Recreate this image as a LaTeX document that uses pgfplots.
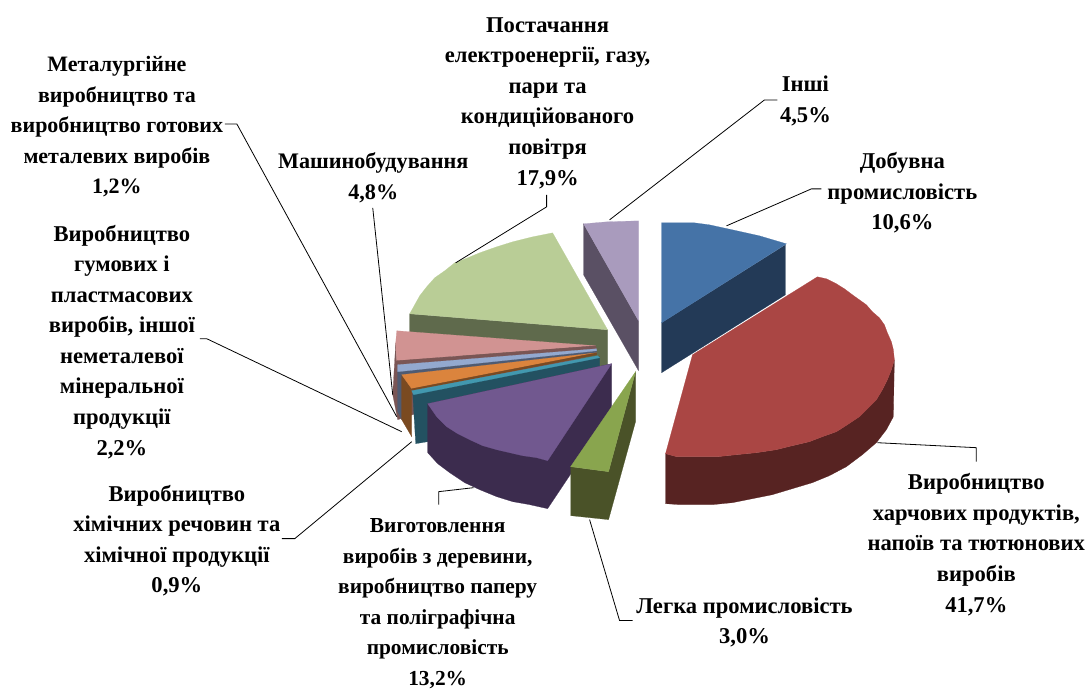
\documentclass[border=0pt]{standalone}
\usepackage{pgfplots}
\pgfplotsset{compat=1.18}
\usepackage{fontspec}
\setmainfont{Liberation Serif}
\definecolor{cBlue}{HTML}{4573A7}\definecolor{dBlue}{HTML}{233A57}
\definecolor{cRed}{HTML}{AA4644}\definecolor{dRed}{HTML}{572322}
\definecolor{cGrn}{HTML}{89A54E}\definecolor{dGrn}{HTML}{4A5228}
\definecolor{cPur}{HTML}{71588F}\definecolor{dPur}{HTML}{3C2C4E}
\definecolor{cTeal}{HTML}{4298AF}\definecolor{dTeal}{HTML}{235161}
\definecolor{cOra}{HTML}{DB843D}\definecolor{dOra}{HTML}{7A4A21}
\definecolor{cLbl}{HTML}{93A9CF}\definecolor{dLbl}{HTML}{4F5B72}
\definecolor{cPnk}{HTML}{D19392}\definecolor{dPnk}{HTML}{7A5655}
\definecolor{cLgr}{HTML}{B9CD96}\definecolor{dLgr}{HTML}{5F6A4C}
\definecolor{cLav}{HTML}{A99BBD}\definecolor{dLav}{HTML}{5A5064}
\newcommand\poly[2]{\addplot[fill=#1,draw=#1,line width=0.2pt,no markers] coordinates {#2} -- cycle;}
\newcommand\lead[1]{\addplot[black,line width=0.8pt,no markers] coordinates {#1};}
\newcommand\lab[4][22.6]{\node[align=center,inner sep=0pt,font=\fontsize{#1}{30.6}\selectfont\bfseries] at (axis cs:#2,#3) {#4};}
\begin{document}
\begin{tikzpicture}
\begin{axis}[at={(0,0)},anchor=south west,scale only axis,width=1085pt,height=686pt,
  xmin=0,xmax=1085,ymin=0,ymax=686,y dir=reverse,hide axis,clip=false]
% Інші (lavender)
\poly{dLav}{(584,224)(584,275)(639,371)(639,321)}
\poly{cLav}{(639,321)(584,224)(607,222)(639,221)}
% Добувна (blue)
\poly{dBlue}{(662,323)(786,245)(786,295)(662,373)}
\poly{cBlue}{(662,323)(662,223)(695,223)(710,225)(733,230)(760,236)(787,244)}
% Харчові (red)
\poly{dRed}{(666,454)(666,504)(680,505)(693,505)(713,505)(733,503)(753,499)(773,495)(793,489)(813,483)(830,476)(847,467)(863,455)(877,443)(887,430)(894,417)(895,360)(892,370)(888,380)(883,390)(877,400)(868,409)(860,417)(848,425)(837,432)(823,437)(810,442)(793,446)(777,450)(757,453)(737,455)(718,457)(700,457)(687,457)(677,457)}
\poly{cRed}{(693,355)(818,277)(827,279)(837,284)(845,289)(853,295)(860,300)(867,305)(873,312)(880,318)(885,325)(888,333)(892,342)(894,350)(895,360)(892,370)(888,380)(883,390)(877,400)(868,409)(860,417)(848,425)(837,432)(823,437)(810,442)(793,446)(777,450)(757,453)(737,455)(718,457)(700,457)(687,457)(677,457)(666,454)}
% Постачання (light green)
\poly{dLgr}{(410,314)(608,330)(608,370)(410,352)}
\poly{cLgr}{(608,330)(410,314)(415,305)(420,296)(427,287)(435,278)(445,271)(455,263)(468,258)(480,253)(497,247)(513,242)(533,237)(553,233)}
% Машинобудування (pink)
\poly{dPnk}{(396,343)(397,360)(597,350)(597,353)(398,420)(393,395)}
\poly{cPnk}{(596,346)(397,331)(396,343)(397,361)}
\poly{dPnk}{(397,361)(596,346)(597,349)(398,365)}
% Металургія (light blue)
\poly{dLbl}{(398,371)(398,412)(402,420)(402,377)}
\poly{dLbl}{(398,371)(597,350)(597,354)(401,378)}
\poly{cLbl}{(597,349)(398,365)(398,372)(597,351)}
% Гумові (orange)
\poly{dOra}{(402,376)(412,389)(412,437)(402,420)}
\poly{cOra}{(597,353)(402,375)(412,389)}
\poly{dOra}{(412,389)(597,353)(597,355)(413,391)}
% Хімічні (teal)
\poly{dTeal}{(413,394)(416,444)(428,442)(600,390)(600,357)}
\poly{cTeal}{(598,356)(412,391)(414,395)(600,358)}
% Виготовлення (purple)
\poly{dPur}{(612,364)(612,413)(548,509)(530,505)(513,502)(497,497)(480,490)(465,483)(450,473)(438,464)(428,453)(428,404)}
\poly{cPur}{(612,364)(428,404)(437,417)(447,427)(458,434)(470,440)(483,446)(497,450)(510,453)(523,456)(537,458)(548,461)}
% Легка (green)
\poly{dGrn}{(571,467)(609,472)(636,372)(636,422)(609,520)(571,516)}
\poly{cGrn}{(636,372)(571,467)(609,472)}
% Leader lines
\lead{(225,124)(237,124)(397,417)}
\lead{(373,208)(385,320)(393,395)}
\lead{(200,339)(207,339)(402,432)}
\lead{(282,539)(295,539)(412,442)}
\lead{(547,195)(547,207)(456,263)}
\lead{(778,100)(765,100)(610,220)}
\lead{(822,189)(812,189)(727,226)}
\lead{(878,443)(977,448)(977,462)}
\lead{(590,520)(620,621)(633,621)}
\lead{(439,505)(439,492)(474,488)}
% Labels
\lab{548}{103}{Постачання\\електроенергії, газу,\\пари та\\кондиційованого\\повітря\\17,9\%}
\lab{806}{101}{Інші\\4,5\%}
\lab{903}{193}{Добувна\\промисловість\\10,6\%}
\lab[22]{117}{127}{Металургійне\\виробництво та\\виробництво готових\\металевих виробів\\1,2\%}
\lab[22.2]{373.5}{178}{Машинобудування\\4,8\%}
\lab{122}{342}{Виробництво\\гумових і\\пластмасових\\виробів, іншої\\неметалевої\\мінеральної\\продукції\\2,2\%}
\lab{177}{541}{Виробництво\\хімічних речовин та\\хімічної продукції\\0,9\%}
\lab[21.4]{438}{604}{Виготовлення\\виробів з деревини,\\виробництво паперу\\та поліграфічна\\промисловість\\13,2\%}
\lab{745}{623}{Легка промисловість\\3,0\%}
\lab{977}{545}{Виробництво\\харчових продуктів,\\напоїв та тютюнових\\виробів\\41,7\%}
\end{axis}
\useasboundingbox (0,0) rectangle (1085pt,686pt);
\end{tikzpicture}
\end{document}
